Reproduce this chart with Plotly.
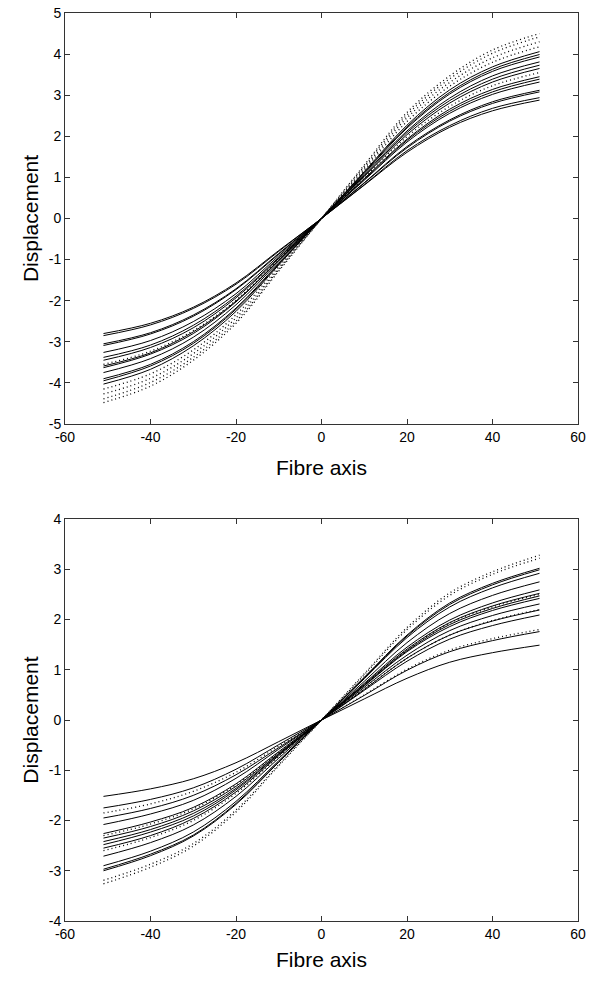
import plotly.graph_objects as go

# Sample positions along the fibre axis
X = [-51, -40, -30, -20, -10, 0, 10, 20, 30, 40, 51]

# ---- Top panel ----
top_dotted = [
    [-4.48, -4.08, -3.45, -2.55, -1.28, 0, 1.30, 2.58, 3.47, 4.10, 4.50],
    [-4.39, -3.99, -3.38, -2.50, -1.25, 0, 1.27, 2.52, 3.40, 4.02, 4.42],
    [-4.27, -3.89, -3.29, -2.42, -1.22, 0, 1.22, 2.45, 3.31, 3.91, 4.30],
    [-4.15, -3.78, -3.20, -2.34, -1.17, 0, 1.18, 2.36, 3.22, 3.80, 4.18],
    [-3.55, -3.23, -2.73, -1.99, -0.99, 0, 0.99, 1.99, 2.73, 3.23, 3.55],
]
top_solid = [
    [-4.03, -3.67, -3.10, -2.26, -1.13, 0, 1.14, 2.27, 3.13, 3.69, 4.06],
    [-3.95, -3.59, -3.04, -2.21, -1.11, 0, 1.12, 2.23, 3.07, 3.63, 3.99],
    [-3.90, -3.55, -3.00, -2.18, -1.09, 0, 1.10, 2.20, 3.03, 3.58, 3.93],
    [-3.75, -3.41, -2.89, -2.10, -1.05, 0, 1.07, 2.13, 2.93, 3.47, 3.81],
    [-3.63, -3.30, -2.80, -2.03, -1.02, 0, 1.04, 2.09, 2.87, 3.39, 3.73],
    [-3.59, -3.27, -2.76, -2.01, -1.01, 0, 1.02, 2.04, 2.81, 3.32, 3.65],
    [-3.45, -3.14, -2.66, -1.93, -0.97, 0, 0.97, 1.93, 2.66, 3.14, 3.45],
    [-3.38, -3.08, -2.60, -1.89, -0.95, 0, 0.95, 1.90, 2.61, 3.08, 3.39],
    [-3.26, -2.97, -2.51, -1.83, -0.91, 0, 0.93, 1.86, 2.56, 3.02, 3.32],
    [-3.09, -2.81, -2.38, -1.73, -0.87, 0, 0.87, 1.75, 2.40, 2.84, 3.12],
    [-3.05, -2.78, -2.35, -1.71, -0.85, 0, 0.86, 1.72, 2.37, 2.80, 3.08],
    [-2.85, -2.59, -2.19, -1.60, -0.80, 0, 0.82, 1.65, 2.26, 2.68, 2.94],
    [-2.80, -2.55, -2.16, -1.57, -0.78, 0, 0.81, 1.61, 2.22, 2.62, 2.88],
]

# ---- Bottom panel ----
bot_dotted = [
    [-3.26, -2.93, -2.51, -1.83, -0.91, 0, 0.92, 1.84, 2.53, 2.95, 3.28],
    [-3.19, -2.87, -2.46, -1.79, -0.89, 0, 0.90, 1.80, 2.48, 2.90, 3.22],
    [-2.60, -2.34, -2.00, -1.46, -0.73, 0, 0.70, 1.40, 1.93, 2.25, 2.50],
    [-2.30, -2.07, -1.77, -1.29, -0.64, 0, 0.62, 1.23, 1.69, 1.98, 2.20],
    [-1.85, -1.67, -1.42, -1.04, -0.52, 0, 0.50, 1.01, 1.39, 1.62, 1.80],
]
bot_solid = [
    [-3.00, -2.70, -2.31, -1.68, -0.84, 0, 0.85, 1.69, 2.33, 2.72, 3.02],
    [-2.97, -2.67, -2.29, -1.66, -0.83, 0, 0.84, 1.67, 2.30, 2.69, 2.99],
    [-2.90, -2.61, -2.23, -1.62, -0.81, 0, 0.82, 1.64, 2.25, 2.63, 2.92],
    [-2.71, -2.44, -2.09, -1.52, -0.76, 0, 0.77, 1.54, 2.12, 2.48, 2.75],
    [-2.55, -2.30, -1.96, -1.43, -0.71, 0, 0.73, 1.45, 1.99, 2.33, 2.59],
    [-2.48, -2.23, -1.91, -1.39, -0.69, 0, 0.71, 1.41, 1.94, 2.27, 2.52],
    [-2.42, -2.18, -1.86, -1.36, -0.68, 0, 0.69, 1.38, 1.90, 2.22, 2.47],
    [-2.35, -2.12, -1.81, -1.32, -0.66, 0, 0.68, 1.36, 1.86, 2.18, 2.42],
    [-2.26, -2.03, -1.74, -1.27, -0.63, 0, 0.65, 1.29, 1.78, 2.08, 2.31],
    [-2.08, -1.87, -1.60, -1.16, -0.58, 0, 0.61, 1.23, 1.69, 1.97, 2.19],
    [-1.95, -1.76, -1.50, -1.09, -0.55, 0, 0.59, 1.17, 1.61, 1.88, 2.09],
    [-1.75, -1.58, -1.35, -0.98, -0.49, 0, 0.49, 0.99, 1.36, 1.58, 1.76],
    [-1.52, -1.37, -1.17, -0.85, -0.43, 0, 0.42, 0.83, 1.15, 1.34, 1.49],
]

x_ticks = [-60, -40, -20, 0, 20, 40, 60]
x_tick_text = ["-60", "-40", "-20", "0", "20", "40", "60"]
top_y_ticks = [-5, -4, -3, -2, -1, 0, 1, 2, 3, 4, 5]
top_y_text = ["-5", "-4", "-3", "-2", "-1", "0", "1", "2", "3", "4", "5"]
bot_y_ticks = [-4, -3, -2, -1, 0, 1, 2, 3, 4]
bot_y_text = ["-4", "-3", "-2", "-1", "0", "1", "2", "3", "4"]
x_title = "Fibre axis"
y_title = "Displacement"

fig = go.Figure()

def add(series, dash, xa, ya, width):
    for ys in series:
        fig.add_trace(go.Scatter(
            x=X, y=ys, mode="lines", xaxis=xa, yaxis=ya,
            line=dict(color="black", width=width, dash=dash, shape="spline", smoothing=1.0),
            showlegend=False, hoverinfo="skip"))

add(top_dotted, "1px,3px", "x", "y", 1.3)
add(top_solid, "solid", "x", "y", 1)
add(bot_dotted, "1px,3px", "x2", "y2", 1.3)
add(bot_solid, "solid", "x2", "y2", 1)

font = dict(family="Liberation Sans, Arial, sans-serif", color="black")
axis_common = dict(
    showgrid=False, zeroline=False, showline=True, mirror="allticks",
    linecolor="#333333", linewidth=1, ticks="inside", ticklen=5,
    tickcolor="#333333", tickfont=dict(size=14, **font),
    ticklabeloverflow="allow",
)

fig.update_layout(
    width=591, height=982,
    margin=dict(l=65, r=5, t=13, b=61),
    paper_bgcolor="white", plot_bgcolor="white",
    font=font,
    xaxis=dict(domain=[0, 1], anchor="y", range=[-60, 60],
               tickvals=x_ticks, ticktext=x_tick_text,
               title=dict(text=x_title, font=dict(size=21, **font), standoff=16),
               **axis_common),
    yaxis=dict(domain=[0.5474, 1.0], anchor="x", range=[-5, 5],
               tickvals=top_y_ticks, ticktext=top_y_text,
               title=dict(text=y_title, font=dict(size=21, **font), standoff=4),
               **axis_common),
    xaxis2=dict(domain=[0, 1], anchor="y2", range=[-60, 60],
                tickvals=x_ticks, ticktext=x_tick_text,
                title=dict(text=x_title, font=dict(size=21, **font), standoff=11),
                **axis_common),
    yaxis2=dict(domain=[0.0, 0.4427], anchor="x2", range=[-4, 4],
                tickvals=bot_y_ticks, ticktext=bot_y_text,
                title=dict(text=y_title, font=dict(size=21, **font), standoff=4),
                **axis_common),
)

fig.write_html(
    "out.html",
    config={"displayModeBar": False, "staticPlot": True},
    post_script="document.body.style.margin='0';document.body.style.overflow='hidden';",
)
